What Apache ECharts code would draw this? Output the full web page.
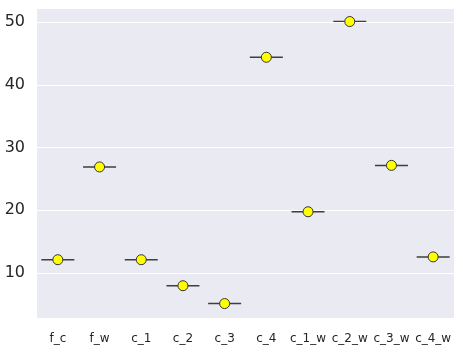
<!DOCTYPE html>
<html><head><meta charset="utf-8">
<script src="https://cdn.jsdelivr.net/npm/echarts@6/dist/echarts.min.js"></script>
<style>html,body{margin:0;padding:0;background:#fff}#c{width:463px;height:354px}</style>
</head><body><div id="c"></div>
<script>
var categories = ['f_c','f_w','c_1','c_2','c_3','c_4','c_1_w','c_2_w','c_3_w','c_4_w'];
var values = [12.1, 26.9, 12.1, 7.95, 5.1, 44.4, 19.75, 50.1, 27.15, 12.55];
var yTicks = [10, 20, 30, 40, 50];

var chart = echarts.init(document.getElementById('c'));
chart.setOption({
  animation: false,
  backgroundColor: '#ffffff',
  grid: {left: 37, right: 9, top: 9, bottom: 36, backgroundColor: '#EAEAF2', show: true, borderWidth: 0},
  xAxis: {
    type: 'category', data: categories,
    axisLine: {show: false}, axisTick: {show: false},
    axisLabel: {interval: 0, color: '#262626', fontSize: 12, fontFamily: 'DejaVu Sans', margin: 15}
  },
  yAxis: {
    type: 'value', min: 2.8, max: 52.1,
    axisLine: {show: false}, axisTick: {show: false},
    axisLabel: {color: '#262626', fontSize: 16, fontFamily: 'DejaVu Sans', margin: 12,
      formatter: function(v){ return yTicks.indexOf(v) >= 0 ? String(v) : ''; }},
    splitLine: {show: false}
  },
  series: [
    {
      type: 'boxplot',
      data: values.map(function(v){ return [v, v, v, v, v]; }),
      boxWidth: [33, 33],
      itemStyle: {color: 'rgba(0,0,0,0)', borderColor: '#3f3f3f', borderWidth: 1.5},
      markLine: {
        silent: true, symbol: 'none', label: {show: false},
        lineStyle: {color: '#ffffff', width: 1.2, type: 'solid'},
        data: yTicks.map(function(t){ return {yAxis: t}; })
      },
      z: 3
    },
    {
      type: 'scatter',
      data: values.map(function(v, i){ return [i, v]; }),
      symbol: 'circle', symbolSize: 10,
      itemStyle: {color: '#ffff00', borderColor: '#333333', borderWidth: 1, opacity: 1},
      z: 5
    }
  ]
});
</script></body></html>
